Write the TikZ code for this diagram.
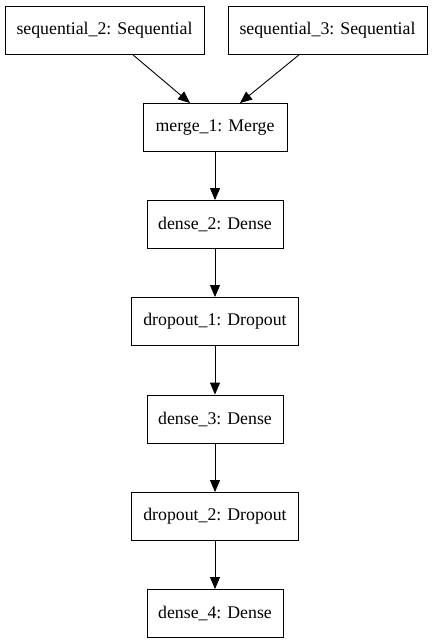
\documentclass[tikz,border=0pt]{standalone}
\usepackage{fontspec}
\setmainfont{Liberation Serif}
\usetikzlibrary{arrows.meta}
\begin{document}
\begin{tikzpicture}[x=1pt,y=-1pt,
  layer/.style={draw=black, line width=0.9pt, rectangle, inner sep=0pt, font=\fontsize{17.8}{20}\selectfont, minimum height=48pt},
  conn/.style={draw=black, line width=0.9pt, -{Triangle[length=12pt,width=10pt]}}]
\useasboundingbox (0,0) rectangle (432,644);
\node[layer, minimum width=199pt] (s2) at (104.5,30) {sequential\_2: Sequential};
\node[layer, minimum width=199pt] (s3) at (327.5,30) {sequential\_3: Sequential};
\node[layer, minimum width=144pt] (m) at (215,127.5) {merge\_1: Merge};
\node[layer, minimum width=136pt] (d2) at (215,224.5) {dense\_2: Dense};
\node[layer, minimum width=167pt] (p1) at (215,321.5) {dropout\_1: Dropout};
\node[layer, minimum width=136pt] (d3) at (215,419) {dense\_3: Dense};
\node[layer, minimum width=167pt] (p2) at (215,516.5) {dropout\_2: Dropout};
\node[layer, minimum width=136pt] (d4) at (215,613.5) {dense\_4: Dense};
\draw[conn] ([xshift=28pt]s2.south) -- ([xshift=-25pt]m.north);
\draw[conn] ([xshift=-28pt]s3.south) -- ([xshift=25pt]m.north);
\draw[conn] (m) -- (d2);
\draw[conn] (d2) -- (p1);
\draw[conn] (p1) -- (d3);
\draw[conn] (d3) -- (p2);
\draw[conn] (p2) -- (d4);
\end{tikzpicture}
\end{document}
